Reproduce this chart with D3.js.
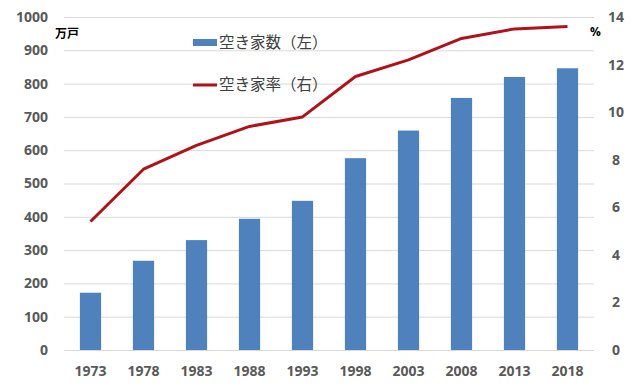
<!DOCTYPE html>
<html>
<head>
<meta charset="utf-8">
<script src="https://cdn.jsdelivr.net/npm/d3@7"></script>
<style>
  body { margin: 0; background: #fff; }
  svg { display: block; }
</style>
</head>
<body>
<script>
'use strict';

// chart data
const years = ['1973', '1978', '1983', '1988', '1993', '1998', '2003', '2008', '2013', '2018'];
const vacantHouses = [172, 268, 330, 394, 448, 576, 659, 757, 820, 846]; // 万戸
const vacancyRate = [5.4, 7.6, 8.6, 9.4, 9.8, 11.5, 12.2, 13.1, 13.5, 13.6]; // %
const leftTicks = [0, 100, 200, 300, 400, 500, 600, 700, 800, 900, 1000];
const rightTicks = [0, 2, 4, 6, 8, 10, 12, 14];
const legendLabels = ['空き家数（左）', '空き家率（右）'];

const width = 640, height = 386;
const plot = { left: 64, right: 594, top: 17, bottom: 350 };
const barColor = '#4F81BD';
const lineColor = '#B0121B';
const tickColor = '#595959';
const numFont = '"Open Sans", "Liberation Sans", sans-serif';
const jpFont = '"Noto Sans CJK JP", sans-serif';

const svg = d3.select('body').append('svg')
  .attr('width', width)
  .attr('height', height);

let x = d3.scaleBand()
  .domain(years)
  .range([plot.left, plot.right])
  .paddingInner(0.6)
  .paddingOuter(0.3);

let yLeft = d3.scaleLinear().domain([0, 1000]).range([plot.bottom, plot.top]);
let yRight = d3.scaleLinear().domain([0, 14]).range([plot.bottom, plot.top]);

// gridlines
svg.append('g')
  .selectAll('line')
  .data(leftTicks)
  .enter()
  .append('line')
    .attr('x1', plot.left)
    .attr('x2', plot.right)
    .attr('y1', d => yLeft(d) + 0.5)
    .attr('y2', d => yLeft(d) + 0.5)
    .attr('stroke', '#d9d9d9')
    .attr('stroke-width', 1);

// left axis
let leftAxis = svg.append('g')
  .attr('transform', `translate(${plot.left}, 0)`)
  .call(d3.axisLeft(yLeft).tickValues(leftTicks).tickFormat(d3.format('d')).tickSize(0).tickPadding(16));
leftAxis.select('.domain').remove();
leftAxis.selectAll('text')
  .attr('fill', tickColor)
  .style('font', `bold 14px ${numFont}`);

// right axis
let rightAxis = svg.append('g')
  .attr('transform', `translate(${plot.right}, 0)`)
  .call(d3.axisRight(yRight).tickValues(rightTicks).tickSize(0).tickPadding(22));
rightAxis.select('.domain').remove();
rightAxis.selectAll('text')
  .attr('fill', tickColor)
  .attr('text-anchor', 'middle')
  .style('font', `bold 14px ${numFont}`);

// bottom axis
let bottomAxis = svg.append('g')
  .attr('transform', `translate(0, ${plot.bottom})`)
  .call(d3.axisBottom(x).tickSize(0).tickPadding(16));
bottomAxis.select('.domain').remove();
bottomAxis.selectAll('text')
  .attr('fill', tickColor)
  .style('font', `bold 14px ${numFont}`);

// bars
svg.append('g')
  .selectAll('rect')
  .data(years)
  .enter()
  .append('rect')
    .attr('x', d => x(d))
    .attr('width', x.bandwidth())
    .attr('y', (d, i) => yLeft(vacantHouses[i]))
    .attr('height', (d, i) => yLeft(0) - yLeft(vacantHouses[i]))
    .attr('fill', barColor);

// rate line
let line = d3.line()
  .x((d, i) => x(years[i]) + x.bandwidth() / 2)
  .y(d => yRight(d));

svg.append('path')
  .datum(vacancyRate)
  .attr('d', line)
  .attr('fill', 'none')
  .attr('stroke', lineColor)
  .attr('stroke-width', 3)
  .attr('stroke-linejoin', 'round');

// unit labels
svg.append('text')
  .attr('x', 55)
  .attr('y', 38)
  .style('font', `bold 12px ${jpFont}`)
  .attr('fill', '#000')
  .text('万戸');

svg.append('text')
  .attr('x', 590)
  .attr('y', 36)
  .style('font', `bold 12px ${numFont}`)
  .attr('fill', '#000')
  .text('%');

// legend
let legend = svg.append('g');
legend.append('rect')
  .attr('x', 193).attr('y', 39)
  .attr('width', 24).attr('height', 7)
  .attr('fill', barColor);
legend.append('line')
  .attr('x1', 193).attr('x2', 217)
  .attr('y1', 85).attr('y2', 85)
  .attr('stroke', lineColor)
  .attr('stroke-width', 3);
legend.selectAll('text')
  .data(legendLabels)
  .enter()
  .append('text')
    .attr('x', 219)
    .attr('y', (d, i) => 43 + i * 42)
    .attr('dy', '0.35em')
    .attr('fill', '#404040')
    .style('font', `15.5px ${jpFont}`)
    .text(d => d);
</script>
</body>
</html>
